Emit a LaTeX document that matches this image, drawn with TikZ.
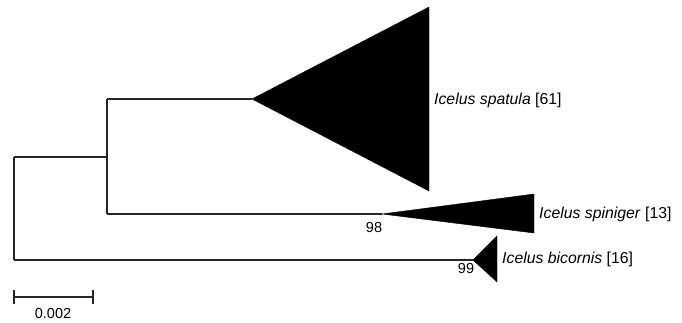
\documentclass[tikz,border=0pt]{standalone}
\usepackage{fontspec}
\setmainfont{Liberation Sans}
\begin{document}
\begin{tikzpicture}[x=1pt,y=-1pt,
  br/.style={line width=1.1pt,black!85},
  clade/.style={fill=black,draw=black,line width=0.4pt},
  lab/.style={anchor=west,inner sep=0pt,font=\fontsize{15.8}{18}\selectfont},
  boot/.style={inner sep=0pt,font=\fontsize{14.5}{16}\selectfont}]
\useasboundingbox (0,0) rectangle (682,322);
% internal nodes
\coordinate (rt) at (14,157);
\coordinate (rb) at (14,260);
\coordinate (in) at (107,157);
\coordinate (it) at (107,99);
\coordinate (ib) at (107,214);
\coordinate (a1) at (252,99);
\coordinate (a2) at (382,214);
\coordinate (a3) at (473,260);
% branches
\draw[br] (rt) -- (rb);
\draw[br] (rt) -- (in);
\draw[br] (it) -- (ib);
\draw[br] (it) -- (a1);
\draw[br] (ib) -- (a2);
\draw[br] (rb) -- (a3);
% clades
\draw[clade] (a1) -- (429,7) -- (429,191) -- cycle;
\draw[clade] (a2) -- (534,194) -- (534,233) -- cycle;
\draw[clade] (a3) -- (497,236) -- (497,282) -- cycle;
% labels
\node[lab] (l1) at (434,100) {\textit{Icelus spatula} [61]};
\node[lab] (l2) at (539,214) {\textit{Icelus spiniger} [13]};
\node[lab] (l3) at (502,259) {\textit{Icelus bicornis} [16]};
\node[boot] (b98) at (374,228) {98};
\node[boot] (b99) at (466,269) {99};
% scale bar
\coordinate (s1) at (14,297);
\coordinate (s2) at (93,297);
\draw[br] (s1) -- (s2);
\draw[br] (14,290) -- (14,304);
\draw[br] (93,290) -- (93,304);
\node[boot] (sl) at (53,313) {0.002};
\end{tikzpicture}
\end{document}
